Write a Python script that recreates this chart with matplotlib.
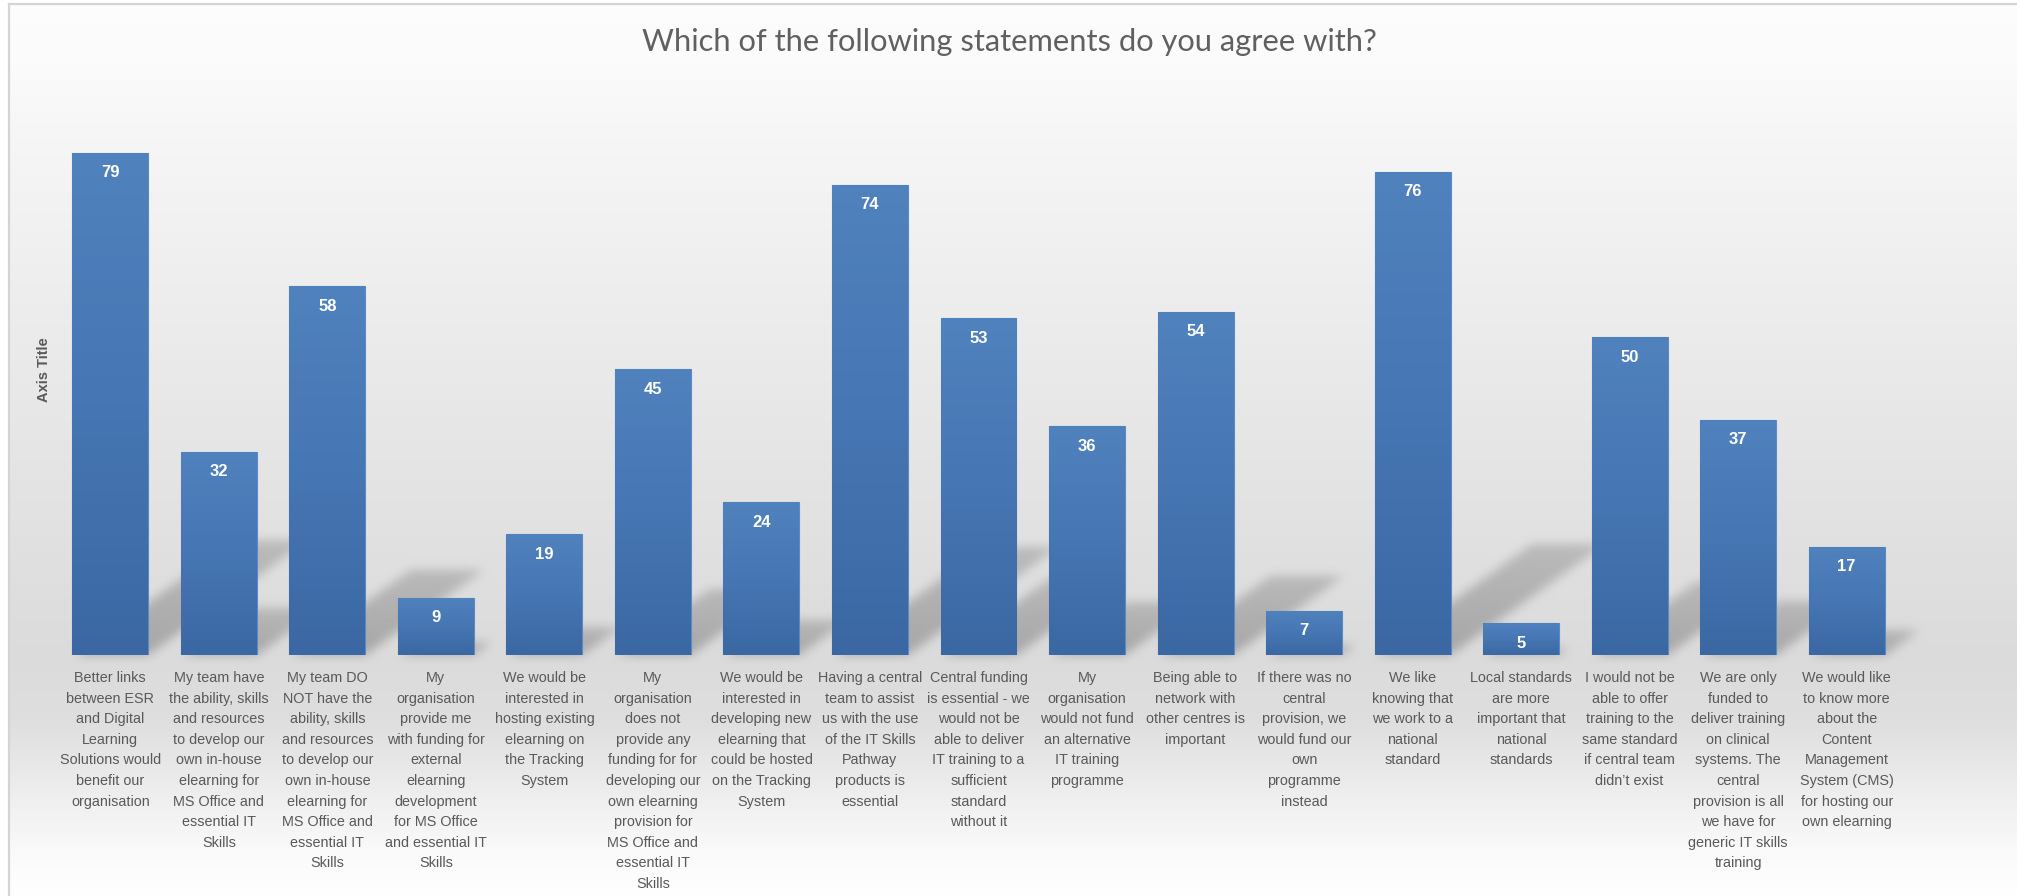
import numpy as np
import matplotlib
matplotlib.use("Agg")
import matplotlib.pyplot as plt
from matplotlib.path import Path
from matplotlib.colors import LinearSegmentedColormap

# ---- data -------------------------------------------------------------
title = "Which of the following statements do you agree with?"
axis_title = "Axis Title"

statements = [
    "Better links\nbetween ESR\nand Digital\nLearning\nSolutions would\nbenefit our\norganisation",
    "My team have\nthe ability, skills\nand resources\nto develop our\nown in-house\nelearning for\nMS Office and\nessential IT\nSkills",
    "My team DO\nNOT have the\nability, skills\nand resources\nto develop our\nown in-house\nelearning for\nMS Office and\nessential IT\nSkills",
    "My\norganisation\nprovide me\nwith funding for\nexternal\nelearning\ndevelopment\nfor MS Office\nand essential IT\nSkills",
    "We would be\ninterested in\nhosting existing\nelearning on\nthe Tracking\nSystem",
    "My\norganisation\ndoes not\nprovide any\nfunding for for\ndeveloping our\nown elearning\nprovision for\nMS Office and\nessential IT\nSkills",
    "We would be\ninterested in\ndeveloping new\nelearning that\ncould be hosted\non the Tracking\nSystem",
    "Having a central\nteam to assist\nus with the use\nof the IT Skills\nPathway\nproducts is\nessential",
    "Central funding\nis essential - we\nwould not be\nable to deliver\nIT training to a\nsufficient\nstandard\nwithout it",
    "My\norganisation\nwould not fund\nan alternative\nIT training\nprogramme",
    "Being able to\nnetwork with\nother centres is\nimportant",
    "If there was no\ncentral\nprovision, we\nwould fund our\nown\nprogramme\ninstead",
    "We like\nknowing that\nwe work to a\nnational\nstandard",
    "Local standards\nare more\nimportant that\nnational\nstandards",
    "I would not be\nable to offer\ntraining to the\nsame standard\nif central team\ndidn\u2019t exist",
    "We are only\nfunded to\ndeliver training\non clinical\nsystems. The\ncentral\nprovision is all\nwe have for\ngeneric IT skills\ntraining",
    "We would like\nto know more\nabout the\nContent\nManagement\nSystem (CMS)\nfor hosting our\nown elearning",
]

responses = [79, 32, 58, 9, 19, 45, 24, 74, 53, 36, 54, 7, 76, 5, 50, 37, 17]

# ---- figure layout ----------------------------------------------------
W, H, DPI = 2017, 896, 100
fig = plt.figure(figsize=(W / DPI, H / DPI), dpi=DPI)

bg_ax = fig.add_axes([0, 0, 1, 1], zorder=0)
bg_ax.set_axis_off()

base_px = 655          # baseline row (from top)
left_px, right_px = 56, 1901
ax = fig.add_axes([left_px / W, (H - base_px) / H, (right_px - left_px) / W, 572 / H], zorder=1)
ax.patch.set_alpha(0)
for s in ax.spines.values():
    s.set_visible(False)
ax.set_xticks([])
ax.set_yticks([])

n = len(responses)
xpos = np.arange(n)
bars = ax.bar(xpos, responses, width=0.70, color="#467ab8", edgecolor="#5a8ac8",
              linewidth=0.8, zorder=2)

# vertical blue gradient inside every bar
bar_cmap = LinearSegmentedColormap.from_list("barfill", ["#5082be", "#4676b3", "#3b68a3"])
grad = np.linspace(0, 1, 256).reshape(-1, 1)
for b in bars:
    x0, w, h = b.get_x(), b.get_width(), b.get_height()
    im = ax.imshow(grad, extent=(x0, x0 + w, 0, h), aspect="auto", cmap=bar_cmap,
                   origin="upper", zorder=3, interpolation="bilinear")
    im.set_clip_path(b)
ax.set_xlim(-0.5, n - 0.5)
ax.set_ylim(0, 90)

# ---- background gradient with perspective shadows ----------------------
stops_y = [0, 5, 60, 150, 300, 450, 600, 660, 720, 790, 850, 896]
stops_v = [1.0, 0.99, 0.985, 0.962, 0.93, 0.9, 0.87, 0.86, 0.872, 0.93, 0.98, 1.0]
rows = np.arange(H) + 0.5
col = np.interp(rows, stops_y, stops_v)
bg = np.repeat(col[:, None], W, axis=1)

shadow = np.zeros((H, W))
for b in bars:
    x0, w, h = b.get_x(), b.get_width(), b.get_height()
    (px0, pb), (px1, pt) = ax.transData.transform([(x0, 0), (x0 + w, h)])
    hp = pt - pb
    dx, dy = 0.32 * hp, 0.23 * hp
    poly = Path([(px0 + 3, pb), (px1, pb), (px1 + dx, pb + dy), (px0 + 3 + dx, pb + dy), (px0 + 3, pb)])
    cx0, cx1 = int(px0) - 5, int(px1 + dx) + 6
    ry0, ry1 = int(H - (pb + dy)) - 5, int(H - pb) + 6
    cx0, cx1 = max(cx0, 0), min(cx1, W)
    ry0, ry1 = max(ry0, 0), min(ry1, H)
    yy, xx = np.mgrid[ry0:ry1, cx0:cx1]
    pts = np.column_stack([xx.ravel() + 0.5, H - (yy.ravel() + 0.5)])
    inside = poly.contains_points(pts).reshape(yy.shape)
    t = np.clip(((H - (yy + 0.5)) - pb) / max(dy, 1), 0, 1)
    weight = (1.0 - 0.3 * t) * inside
    shadow[ry0:ry1, cx0:cx1] = np.maximum(shadow[ry0:ry1, cx0:cx1], weight)


def blur(arr, sigma):
    r = int(3 * sigma)
    k = np.exp(-0.5 * (np.arange(-r, r + 1) / sigma) ** 2)
    k /= k.sum()
    out = np.zeros_like(arr)
    padded = np.pad(arr, ((0, 0), (r, r)), mode="edge")
    for i, kv in enumerate(k):
        out += kv * padded[:, i:i + arr.shape[1]]
    padded = np.pad(out, ((r, r), (0, 0)), mode="edge")
    out2 = np.zeros_like(arr)
    for i, kv in enumerate(k):
        out2 += kv * padded[i:i + arr.shape[0], :]
    return out2


shadow = blur(shadow, 5.0)
img = bg * (1 - 0.24 * shadow)
img[:5, :] = 1.0
img[:, :8] = 1.0
rgb = np.dstack([img, img, img])
bg_ax.imshow(rgb, extent=(0, W, H, 0), interpolation="nearest", aspect="auto")
bg_ax.plot([8.5, 8.5], [H, 4.5], color="#d4d4d4", lw=1.6)
bg_ax.plot([8.5, W], [4.5, 4.5], color="#d4d4d4", lw=1.6)
bg_ax.set_xlim(0, W)
bg_ax.set_ylim(H, 0)

# ---- texts -------------------------------------------------------------
narrow = ["Liberation Sans Narrow", "Liberation Sans", "DejaVu Sans"]
sans = ["Liberation Sans", "DejaVu Sans"]
grey = "#595959"

t = fig.text(1009 / W, 1 - 42 / H, title, ha="center", va="center", fontsize=20,
             color="#606060", family=["Lato", "Liberation Sans", "DejaVu Sans"])
renderer = fig.canvas.get_renderer()
tw = t.get_window_extent(renderer).width
t.set_fontsize(20 * 738 / tw)

fig.text(44 / W, 1 - 370 / H, axis_title, rotation=90, ha="center", va="center",
         fontsize=10.5, fontweight="bold", color=grey, family=sans)

for i, (v, lab) in enumerate(zip(responses, statements)):
    ax.annotate(str(v), xy=(i, v), xytext=(0, -14.4), textcoords="offset points",
                ha="center", va="center", color="white", fontsize=12,
                fontweight="bold", family=sans, zorder=5)
    ax.annotate(lab, xy=(i, 0), xytext=(0, -11.5), textcoords="offset points",
                ha="center", va="top", multialignment="center", color=grey,
                fontsize=10.4, family=narrow, linespacing=1.60, annotation_clip=False)

fig.savefig("out.png", dpi=DPI)
